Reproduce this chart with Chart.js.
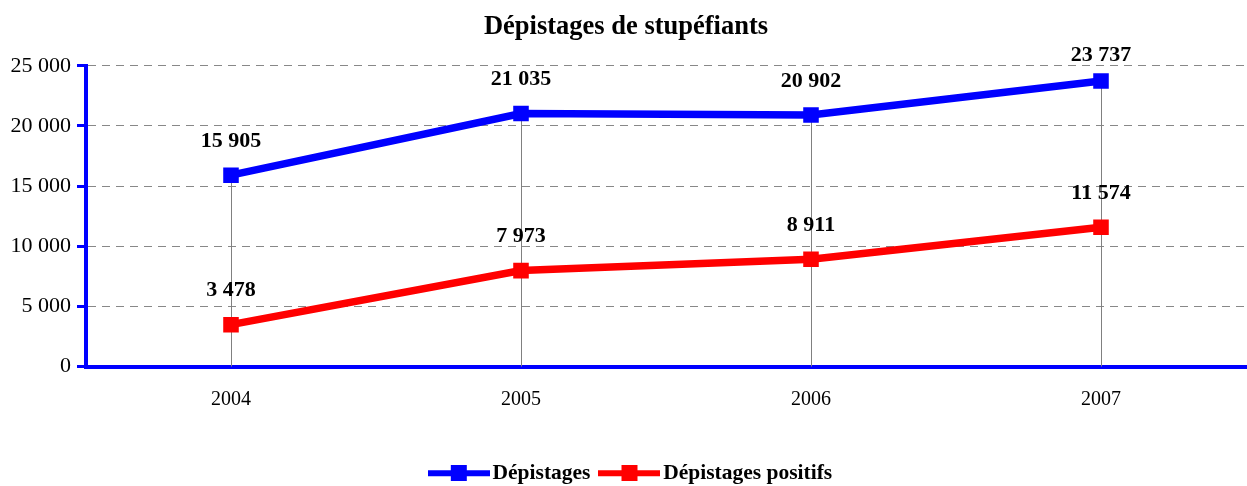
<!DOCTYPE html>
<html>
<head>
<meta charset="utf-8">
<script src="https://cdn.jsdelivr.net/npm/chart.js@4/dist/chart.umd.min.js"></script>
<style>
  html, body { margin: 0; padding: 0; background: #fff; }
  #wrap { width: 1247px; height: 486px; }
</style>
</head>
<body>
<div id="wrap"><canvas id="chart" width="1247" height="486"></canvas></div>
<script>
const years = ["2004", "2005", "2006", "2007"];
const depistages = [15905, 21035, 20902, 23737];
const positifs = [3478, 7973, 8911, 11574];
const yTicks = [0, 5000, 10000, 15000, 20000, 25000];

const serif = "'Liberation Serif', 'Times New Roman', serif";

function fmt(n) {
  return String(n).replace(/\B(?=(\d{3})+(?!\d))/g, " ");
}

// legend marker: line with a square in the middle
function legendMark(color) {
  const c = document.createElement("canvas");
  c.width = 62;
  c.height = 16;
  const g = c.getContext("2d");
  g.fillStyle = color;
  g.fillRect(0, 5, 62, 6);
  g.fillRect(23, 0, 16, 16);
  return c;
}

// vertical drop lines from the top series down to the axis
const dropLines = {
  id: "dropLines",
  beforeDatasetsDraw(chart) {
    const ctx = chart.ctx;
    const bottom = chart.scales.y.getPixelForValue(0);
    const pts = chart.getDatasetMeta(0).data;
    ctx.save();
    ctx.strokeStyle = "#808080";
    ctx.lineWidth = 1;
    pts.forEach((p) => {
      ctx.beginPath();
      ctx.moveTo(Math.round(p.x) + 0.5, p.y);
      ctx.lineTo(Math.round(p.x) + 0.5, bottom);
      ctx.stroke();
    });
    ctx.restore();
  }
};

// value labels above points, kept from going too far above the plot area
const valueLabels = {
  id: "valueLabels",
  afterDatasetsDraw(chart) {
    const ctx = chart.ctx;
    const minY = chart.chartArea.top - 10;
    ctx.save();
    ctx.font = "bold 22px " + serif;
    ctx.fillStyle = "#000";
    ctx.textAlign = "center";
    ctx.textBaseline = "middle";
    chart.data.datasets.forEach((ds, i) => {
      chart.getDatasetMeta(i).data.forEach((p, j) => {
        ctx.fillText(fmt(ds.data[j]), p.x, Math.max(p.y - 34, minY));
      });
    });
    ctx.restore();
  }
};

// small horizontal nudges so title and legend sit where the original has them
const nudge = {
  id: "nudge",
  afterLayout(chart) {
    chart.legend.left += 11;
    chart.legend.right += 11;
    chart.titleBlock.left += 3;
    chart.titleBlock.right += 3;
  }
};

const ctx = document.getElementById("chart").getContext("2d");
new Chart(ctx, {
  type: "line",
  data: {
    labels: years,
    datasets: [
      {
        label: "Dépistages",
        data: depistages,
        borderColor: "#0000ff",
        backgroundColor: "#0000ff",
        borderWidth: 7.5,
        pointStyle: "rect",
        pointRadius: 11,
        pointHoverRadius: 11,
        pointBorderWidth: 0,
        tension: 0
      },
      {
        label: "Dépistages positifs",
        data: positifs,
        borderColor: "#ff0000",
        backgroundColor: "#ff0000",
        borderWidth: 7.5,
        pointStyle: "rect",
        pointRadius: 11,
        pointHoverRadius: 11,
        pointBorderWidth: 0,
        tension: 0
      }
    ]
  },
  options: {
    responsive: false,
    animation: false,
    layout: { autoPadding: false, padding: { left: 0, right: 1, top: 0, bottom: -8 } },
    scales: {
      x: {
        offset: true,
        grid: { display: false },
        border: { display: true, color: "#0000ff", width: 4 },
        ticks: { color: "#000", font: { family: serif, size: 20 }, padding: 13 },
        afterFit: (scale) => { scale.height = scale.height + 22; }
      },
      y: {
        min: 0,
        max: 25000,
        afterBuildTicks: (scale) => {
          scale.ticks = yTicks.map((v) => ({ value: v }));
        },
        afterFit: (scale) => { scale.width = 86; },
        grid: {
          color: "#888888",
          lineWidth: 1,
          tickColor: "#0000ff",
          tickWidth: 3,
          tickLength: 9
        },
        border: { display: true, color: "#0000ff", width: 4, dash: [8, 6] },
        ticks: {
          color: "#000",
          font: { family: serif, size: 22 },
          padding: 6,
          callback: (v) => fmt(v)
        }
      }
    },
    plugins: {
      title: {
        display: true,
        text: "Dépistages de stupéfiants",
        color: "#000",
        font: { family: serif, size: 26.5, weight: "bold" },
        padding: { top: 11, bottom: 23 }
      },
      legend: {
        position: "bottom",
        labels: {
          color: "#000",
          font: { family: serif, size: 21.5, weight: "bold" },
          usePointStyle: true,
          pointStyleWidth: 46,
          boxHeight: 14,
          padding: 16,
          generateLabels: (chart) => chart.data.datasets.map((ds, i) => ({
            text: ds.label,
            fontColor: "#000",
            pointStyle: legendMark(ds.borderColor),
            lineWidth: 0,
            datasetIndex: i
          }))
        }
      },
      tooltip: { enabled: false }
    }
  },
  plugins: [dropLines, valueLabels, nudge]
});
</script>
</body>
</html>
